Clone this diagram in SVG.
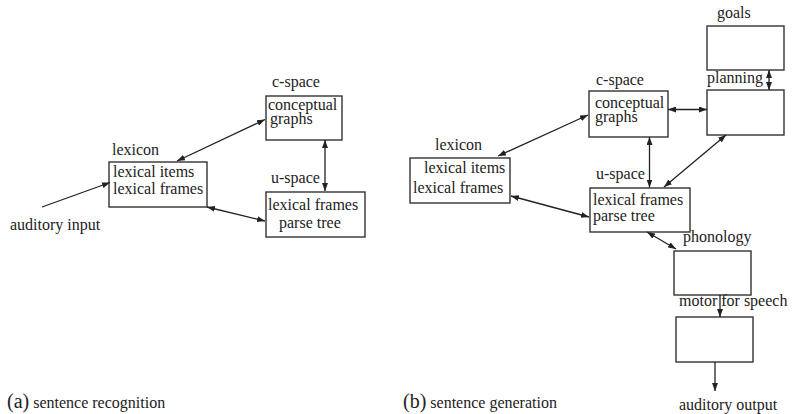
<svg xmlns="http://www.w3.org/2000/svg" width="794" height="414" viewBox="0 0 794 414" font-family="'Liberation Serif', 'Times New Roman', Times, serif" font-size="16">
  <style>
    text { font-family: 'Liberation Serif', 'Times New Roman', Times, serif; font-size: 16px; fill: #222; }
    .cap { font-size: 20px; }
    .box { fill: #fff; stroke: #333; stroke-width: 1.4; }
    .link { stroke: #222; stroke-width: 1.3; fill: none; }
    .both { marker-start: url(#head); marker-end: url(#head); }
    .one { marker-end: url(#head); }
  </style>
  <defs>
    <marker id="head" viewBox="0 0 8 6" refX="8" refY="3" markerWidth="8" markerHeight="6" markerUnits="userSpaceOnUse" orient="auto-start-reverse">
      <path d="M0,0 L8,3 L0,6 z" fill="#222"/>
    </marker>
  </defs>

  <!-- (a) sentence recognition -->
  <g id="a-lexicon">
    <text x="112" y="155">lexicon</text>
    <rect class="box" x="109" y="162" width="98" height="45"/>
    <text x="113" y="177">lexical items</text>
    <text x="113" y="194">lexical frames</text>
  </g>
  <g id="a-cspace">
    <text x="272" y="87">c-space</text>
    <rect class="box" x="266" y="96" width="76" height="44"/>
    <text x="268" y="110">conceptual</text>
    <text x="270" y="124">graphs</text>
  </g>
  <g id="a-uspace">
    <text x="271" y="183">u-space</text>
    <rect class="box" x="266" y="192" width="99" height="45"/>
    <text x="268" y="210">lexical frames</text>
    <text x="279" y="228">parse tree</text>
  </g>
  <g id="a-input">
    <text x="10" y="230">auditory input</text>
  </g>

  <!-- (b) sentence generation -->
  <g id="b-lexicon">
    <text x="435" y="150">lexicon</text>
    <rect class="box" x="410" y="158" width="100" height="45"/>
    <text x="424" y="173">lexical items</text>
    <text x="413" y="193">lexical frames</text>
  </g>
  <g id="b-cspace">
    <text x="596" y="85">c-space</text>
    <rect class="box" x="589" y="91" width="79" height="46"/>
    <text x="595" y="108">conceptual</text>
    <text x="595" y="122">graphs</text>
  </g>
  <g id="b-goals">
    <text x="717" y="18">goals</text>
    <rect class="box" x="707" y="26" width="77" height="44"/>
  </g>
  <g id="b-planning">
    <text x="707" y="83">planning</text>
    <rect class="box" x="707" y="90" width="77" height="45"/>
  </g>
  <g id="b-uspace">
    <text x="596" y="179">u-space</text>
    <rect class="box" x="590" y="188" width="100" height="44"/>
    <text x="593" y="205">lexical frames</text>
    <text x="593" y="221">parse tree</text>
  </g>
  <g id="b-phonology">
    <text x="683" y="242">phonology</text>
    <rect class="box" x="674" y="251" width="77" height="44"/>
  </g>
  <g id="b-motor">
    <text x="679" y="306">motor for speech</text>
    <rect class="box" x="676" y="317" width="77" height="45"/>
  </g>
  <g id="b-output">
    <text x="679" y="410">auditory output</text>
  </g>

  <!-- connectors -->
  <g id="connectors">
    <line class="link one" x1="42" y1="207" x2="110" y2="182.5"/>
    <line class="link both" x1="177" y1="161" x2="265" y2="119.5"/>
    <line class="link both" x1="325" y1="140" x2="325" y2="191"/>
    <line class="link both" x1="207" y1="207" x2="265" y2="221"/>

    <line class="link both" x1="498" y1="156" x2="588" y2="115"/>
    <line class="link both" x1="511" y1="196" x2="589" y2="217"/>
    <line class="link both" x1="649.5" y1="137" x2="649.5" y2="187.5"/>
    <line class="link both" x1="668" y1="109.5" x2="707" y2="109.5"/>
    <line class="link both" x1="726" y1="135" x2="664" y2="187"/>
    <line class="link both" x1="769" y1="70" x2="769" y2="90"/>
    <line class="link both" x1="647" y1="232" x2="676" y2="249"/>
    <line class="link one" x1="720" y1="295" x2="720" y2="317"/>
    <line class="link one" x1="715" y1="362" x2="715" y2="391"/>
  </g>

  <!-- captions -->
  <text x="7" y="408"><tspan class="cap">(a)</tspan> sentence recognition</text>
  <text x="403" y="408"><tspan class="cap">(b)</tspan> sentence generation</text>
</svg>
